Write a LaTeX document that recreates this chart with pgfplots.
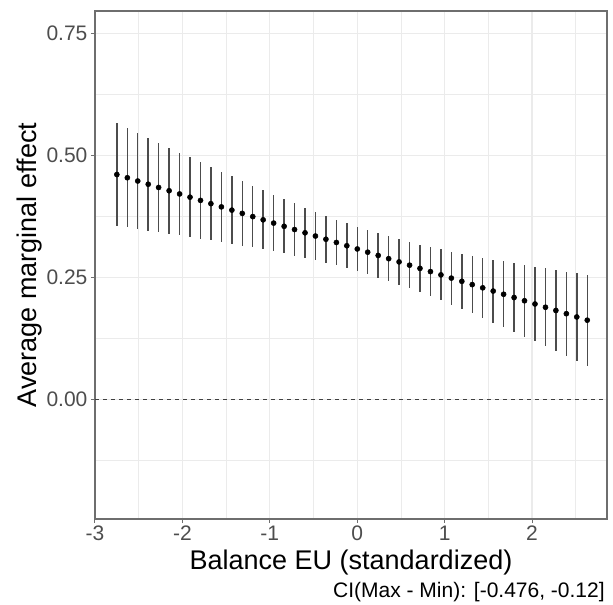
\documentclass[border=0pt]{standalone}
\usepackage{pgfplots}
\pgfplotsset{compat=1.18}
\usepackage{pgfplotstable}
\usepackage{fontspec}
\setmainfont{Liberation Sans}
\definecolor{gridc}{HTML}{EBEBEB}
\definecolor{tickc}{HTML}{4D4D4D}
\definecolor{framec}{HTML}{6E6E6E}

\pgfplotstableread{
x y e
-2.750 0.4607 0.1054
-2.630 0.4541 0.1019
-2.511 0.4474 0.0984
-2.391 0.4408 0.0949
-2.272 0.4342 0.0915
-2.152 0.4275 0.0881
-2.032 0.4209 0.0847
-1.913 0.4143 0.0814
-1.793 0.4077 0.0782
-1.674 0.4010 0.0750
-1.554 0.3944 0.0719
-1.434 0.3878 0.0689
-1.315 0.3811 0.0660
-1.195 0.3745 0.0632
-1.076 0.3679 0.0605
-0.956 0.3612 0.0580
-0.836 0.3546 0.0556
-0.717 0.3480 0.0534
-0.597 0.3413 0.0514
-0.478 0.3347 0.0496
-0.358 0.3281 0.0481
-0.238 0.3215 0.0469
-0.119 0.3148 0.0460
0.001 0.3082 0.0454
0.120 0.3016 0.0452
0.240 0.2949 0.0453
0.360 0.2883 0.0457
0.479 0.2817 0.0464
0.599 0.2750 0.0475
0.718 0.2684 0.0489
0.838 0.2618 0.0505
0.958 0.2551 0.0524
1.077 0.2485 0.0545
1.197 0.2419 0.0568
1.316 0.2352 0.0592
1.436 0.2286 0.0618
1.556 0.2220 0.0646
1.675 0.2154 0.0674
1.795 0.2087 0.0704
1.914 0.2021 0.0735
2.034 0.1955 0.0766
2.154 0.1888 0.0798
2.273 0.1822 0.0831
2.393 0.1756 0.0864
2.512 0.1689 0.0898
2.632 0.1623 0.0932
}\metable

\begin{document}
\begin{tikzpicture}
\begin{axis}[
  name=ax,
  scale only axis,
  width=384pt, height=381pt,
  xmin=-3, xmax=2.858,
  ymin=-0.245, ymax=0.7957,
  clip=false,
  xtick={-3,-2,-1,0,1,2},
  ytick={0,0.25,0.5,0.75},
  minor xtick={-2.5,-1.5,-0.5,0.5,1.5,2.5},
  minor ytick={-0.125,0.125,0.375,0.625},
  grid=both,
  major grid style={color=gridc, line width=0.8pt},
  minor grid style={color=gridc, line width=0.4pt},
  xtick pos=bottom, ytick pos=left,
  tick align=outside,
  major tick length=3pt, minor tick length=0pt,
  tick style={color=framec, line width=0.75pt},
  axis line style={color=framec, line width=0.9pt},
  tick label style={font=\fontsize{15.75}{18}\selectfont, text=tickc},
  xticklabel style={/pgf/number format/assume math mode=true, /pgf/number format/int detect, inner sep=2pt},
  yticklabel style={/pgf/number format/assume math mode=true, /pgf/number format/fixed, /pgf/number format/fixed zerofill, /pgf/number format/precision=2, inner sep=2.5pt},
  xlabel={Balance EU (standardized)},
  ylabel={Average marginal effect},
  label style={font=\fontsize{20.25}{24}\selectfont, text=black},
  xlabel style={at={(axis description cs:0.5,-0.0866)}, anchor=center},
  ylabel style={at={(axis description cs:-0.1133,0.5)}, anchor=base},
]
\addplot[color=black!75, line width=0.6pt, dash pattern=on 3pt off 3pt, forget plot]
  coordinates {(-3,0) (2.858,0)};
\addplot[only marks, mark=*, mark size=1.9pt, color=black,
  error bars/.cd, y dir=both, y explicit,
  error bar style={color=black!70, line width=1.1pt}, error mark=none]
  table[x=x, y=y, y error=e] {\metable};
\node[anchor=east, inner sep=0pt, font=\fontsize{15.75}{18}\selectfont, text=black]
  at (rel axis cs:0.996,-0.1437) {CI(Max - Min): [-0.476, -0.12]};
\end{axis}
\path (ax.south west) ++(-71.25pt,-63.75pt) coordinate (bl);
\path (ax.north east) ++(4.5pt,8.25pt) coordinate (tr);
\path (bl) rectangle (tr);
\end{tikzpicture}
\end{document}
